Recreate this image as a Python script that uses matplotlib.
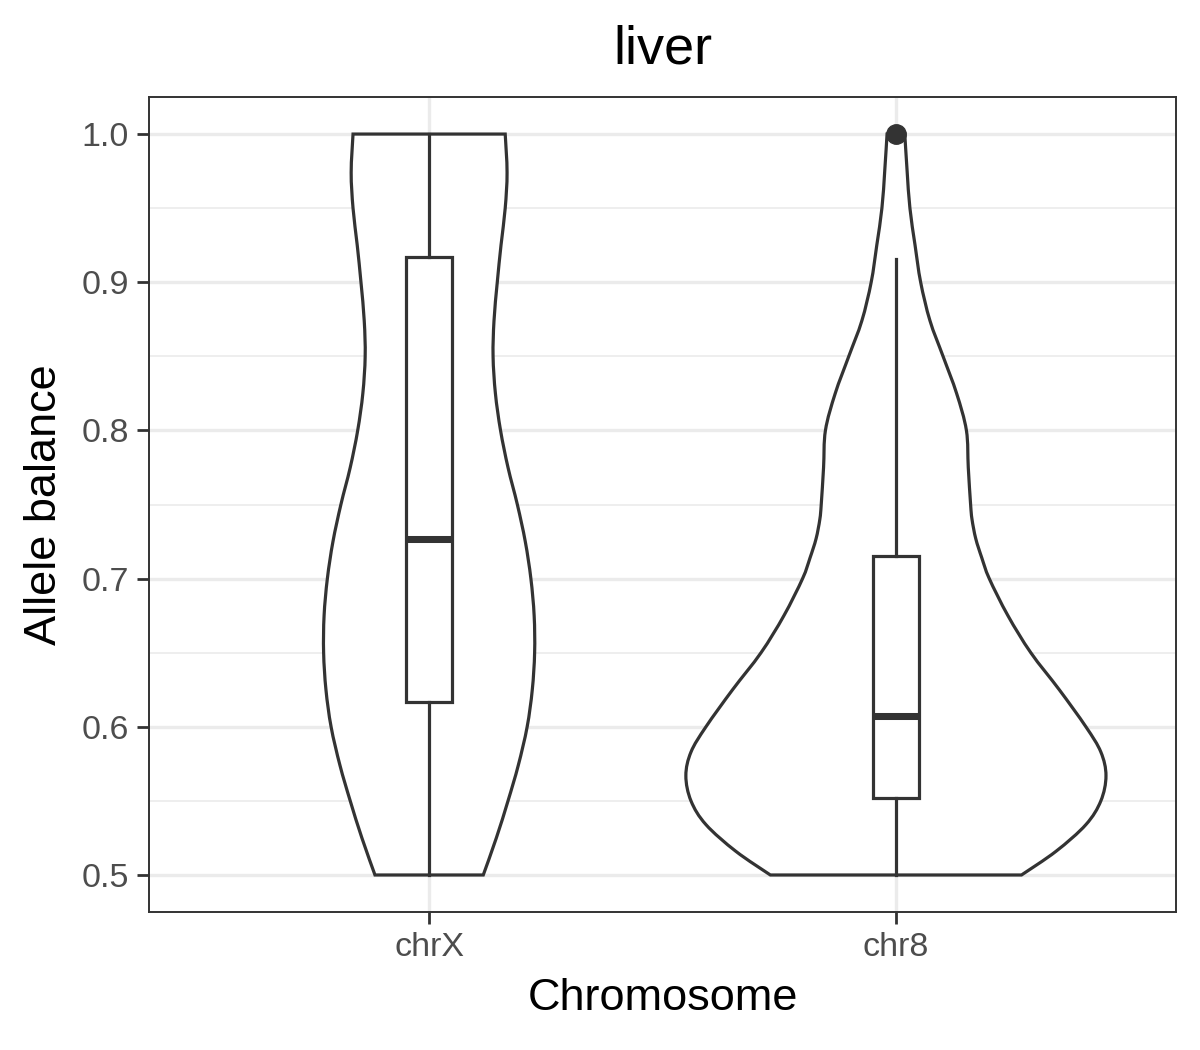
import numpy as np
import matplotlib
matplotlib.use('Agg')
import matplotlib.pyplot as plt
from matplotlib.path import Path
from matplotlib.patches import PathPatch
from matplotlib.ticker import MultipleLocator, FormatStrFormatter

# categories
chromosomes = ['chrX', 'chr8']

# violin outlines: allele balance level -> half width (x units)
chrx_levels = [0.5, 0.525, 0.55, 0.574, 0.6, 0.625, 0.65, 0.675, 0.7, 0.725, 0.75,
               0.775, 0.8, 0.825, 0.85, 0.874, 0.9, 0.925, 0.95, 0.974, 1.0]
chrx_halfwidth = [0.116, 0.144, 0.169, 0.191, 0.210, 0.221, 0.226, 0.225, 0.218, 0.206, 0.189,
                  0.169, 0.153, 0.142, 0.137, 0.139, 0.146, 0.154, 0.163, 0.167, 0.163]

chr8_levels = [0.5, 0.516, 0.534, 0.55, 0.567, 0.583, 0.6, 0.625, 0.65, 0.675, 0.7, 0.714,
               0.727, 0.74, 0.75, 0.775, 0.8, 0.825, 0.85, 0.874, 0.9, 0.925, 0.95, 0.975, 1.0]
chr8_halfwidth = [0.269, 0.343, 0.407, 0.439, 0.450, 0.439, 0.407, 0.350, 0.289, 0.240, 0.200, 0.184,
                  0.171, 0.163, 0.160, 0.155, 0.151, 0.130, 0.101, 0.073, 0.053, 0.041, 0.030, 0.024, 0.019]

# box plot summaries
box_q1 = [0.617, 0.552]
box_median = [0.727, 0.607]
box_q3 = [0.917, 0.715]
whisker_low = [0.5, 0.5]
whisker_high = [1.0, 0.916]
outliers = [[], [1.0]]

DARK = '#333333'
LW = 2.3


def bezier_through(pts):
    # Catmull-Rom through the read points, drawn as cubic Bezier segments
    verts, codes = [], []
    n = len(pts)
    for i in range(n - 1):
        p0 = pts[max(i - 1, 0)]
        p1 = pts[i]
        p2 = pts[i + 1]
        p3 = pts[min(i + 2, n - 1)]
        verts += [p1 + (p2 - p0) / 6.0, p2 - (p3 - p1) / 6.0, p2]
        codes += [Path.CURVE4] * 3
    return verts, codes


def violin_patch(pos, levels, halfwidth):
    lv = np.array(levels)
    hw = np.array(halfwidth)
    right = np.column_stack([pos + hw, lv])
    left = np.column_stack([pos - hw, lv])[::-1]
    verts = [right[0]]
    codes = [Path.MOVETO]
    v, c = bezier_through(right)
    verts += v
    codes += c
    verts.append(left[0])
    codes.append(Path.LINETO)
    v, c = bezier_through(left)
    verts += v
    codes += c
    verts.append(right[0])
    codes.append(Path.CLOSEPOLY)
    return PathPatch(Path(verts, codes), facecolor='white', edgecolor=DARK,
                     linewidth=LW, zorder=3, joinstyle='miter')


plt.rcParams['font.family'] = ['Liberation Sans', 'DejaVu Sans']

fig = plt.figure(figsize=(12, 10.5), dpi=100)
ax = fig.add_axes([0.1242, 0.1314, 0.98 - 0.1242, 0.9076 - 0.1314])

ax.add_patch(violin_patch(1, chrx_levels, chrx_halfwidth))
ax.add_patch(violin_patch(2, chr8_levels, chr8_halfwidth))

stats = []
for i in range(len(chromosomes)):
    stats.append({'med': box_median[i], 'q1': box_q1[i], 'q3': box_q3[i],
                  'whislo': whisker_low[i], 'whishi': whisker_high[i],
                  'fliers': outliers[i]})
ax.bxp(stats, positions=[1, 2], widths=0.1, showcaps=False, patch_artist=True,
       boxprops=dict(facecolor='white', edgecolor=DARK, linewidth=LW),
       whiskerprops=dict(color=DARK, linewidth=LW),
       medianprops=dict(color=DARK, linewidth=LW * 2.2, solid_capstyle='butt'),
       flierprops=dict(marker='o', markersize=14, markerfacecolor=DARK,
                       markeredgecolor=DARK), zorder=4, manage_ticks=False)

ax.set_xlim(0.4, 2.6)
ax.set_ylim(0.475, 1.025)
ax.set_xticks([1, 2])
ax.set_xticklabels(chromosomes)
ax.yaxis.set_major_locator(MultipleLocator(0.1))
ax.yaxis.set_minor_locator(MultipleLocator(0.05))
ax.yaxis.set_major_formatter(FormatStrFormatter('%.1f'))

ax.set_axisbelow(True)
ax.grid(which='major', color='#EBEBEB', linewidth=2.4)
ax.grid(which='minor', axis='y', color='#EBEBEB', linewidth=1.2)
ax.tick_params(axis='both', which='major', length=8.5, width=2.0, color=DARK,
               labelsize=24.5, labelcolor='#4D4D4D', pad=6)
ax.tick_params(axis='y', which='minor', length=0)
for sp in ax.spines.values():
    sp.set_color(DARK)
    sp.set_linewidth(1.4)

ax.set_title('liver', fontsize=39, pad=24)
ax.set_xlabel('Chromosome', fontsize=32.5, labelpad=11)
ax.set_ylabel('Allele balance', fontsize=32.5, labelpad=12)

fig.savefig('out.png', dpi=100)
